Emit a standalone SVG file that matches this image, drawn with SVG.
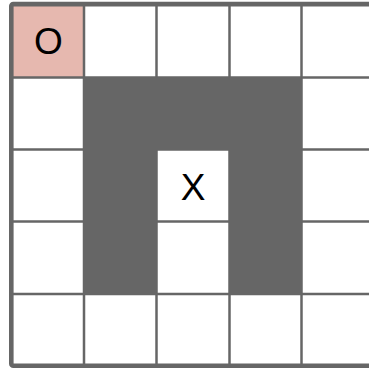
<svg xmlns="http://www.w3.org/2000/svg" width="369" height="368" viewBox="0 0 369 368">
  <style>
    .grid { stroke: #666666; stroke-width: 2.5; fill: none; }
    .border { stroke: #666666; stroke-width: 4.6; fill: none; }
    .lbl { font-family: "Liberation Sans", Arial, sans-serif; font-size: 37px; fill: #000000; text-anchor: middle; }
  </style>
  <rect x="0" y="0" width="369" height="368" fill="#ffffff"/>
  <g id="cells">
    <rect x="84" y="77.5" width="217.5" height="216.5" fill="#666666"/>
    <rect x="156.5" y="149.5" width="73" height="144.5" fill="#ffffff"/>
  </g>
  <g id="node-O">
    <rect x="11" y="4" width="73" height="73.5" fill="#e6b8af"/>
  </g>
  <g id="gridlines">
    <line class="grid" x1="84" y1="4" x2="84" y2="366"/>
    <line class="grid" x1="156.5" y1="4" x2="156.5" y2="366"/>
    <line class="grid" x1="229.5" y1="4" x2="229.5" y2="366"/>
    <line class="grid" x1="301.5" y1="4" x2="301.5" y2="366"/>
    <line class="grid" x1="11" y1="77.5" x2="375" y2="77.5"/>
    <line class="grid" x1="11" y1="149.5" x2="375" y2="149.5"/>
    <line class="grid" x1="11" y1="221.5" x2="375" y2="221.5"/>
    <line class="grid" x1="11" y1="294" x2="375" y2="294"/>
    <rect class="border" x="11.3" y="4.1" width="370" height="361.6" rx="2"/>
  </g>
  <g id="node-X-fill">
    <rect x="84" y="77.5" width="72.5" height="216.5" fill="#666666"/>
    <rect x="229.5" y="77.5" width="72" height="216.5" fill="#666666"/>
    <rect x="84" y="77.5" width="217.5" height="72" fill="#666666"/>
  </g>
  <g id="labels">
    <text class="lbl" x="48.5" y="54">O</text>
    <text class="lbl" x="193" y="200">X</text>
  </g>
</svg>
